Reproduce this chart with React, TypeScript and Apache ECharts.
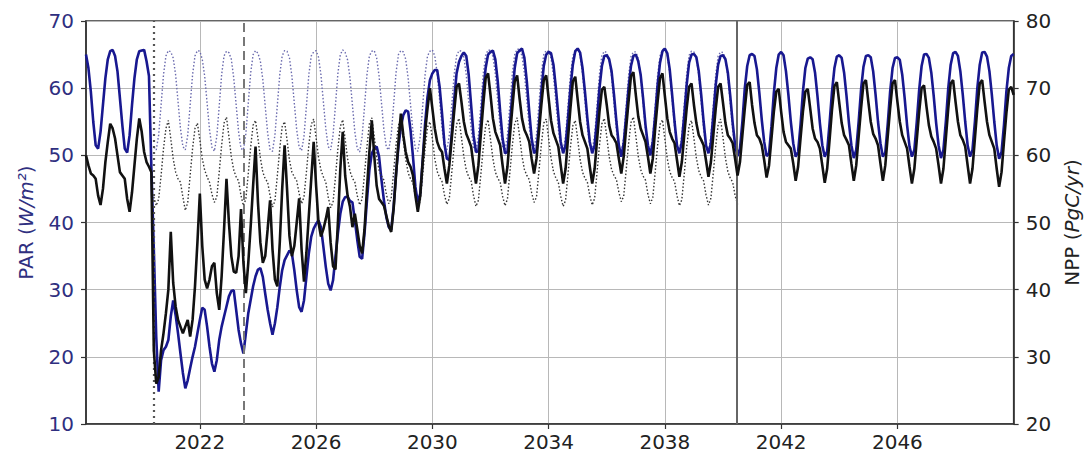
import React, { useEffect, useRef } from 'react';
import * as echarts from 'echarts';

const FONT = 'DejaVu Sans';

// monthly samples: perturbed run from Feb 2018 to Jan 2050, control from Jun 2020 to Jul 2040
const PERT_START = 2018 + 1 / 12;
const PERT_END = 2050;
const CTRL_START = 2020 + 5 / 12;

const xTicks = [2022, 2026, 2030, 2034, 2038, 2042, 2046];
const eventDates = [2020.4, 2023.5, 2040.49];

const parPerturbed: number[] = [
  65.0, 63.0, 59.5, 55.0, 51.5, 51.0, 53.5, 57.5, 61.5, 64.3, 65.5, // 2018 (Feb-Dec)
  65.7, 64.8, 62.5, 58.5, 54.5, 51.0, 50.4, 53.0, 57.5, 61.5, 64.3, 65.5, // 2019
  65.6, 65.7, 64.0, 61.8, 48.0, 36.0, 23.0, 14.8, 19.5, 21.0, 21.5, 22.5, // 2020
  26.0, 28.4, 26.2, 23.5, 20.5, 17.6, 15.3, 16.5, 18.3, 20.0, 21.5, 23.5, // 2021
  25.5, 27.3, 27.0, 24.5, 21.5, 19.0, 17.8, 19.5, 22.5, 24.5, 26.0, 27.5, // 2022
  29.0, 29.8, 29.9, 27.0, 24.0, 22.0, 20.5, 23.5, 26.5, 28.5, 30.5, 32.0, // 2023
  33.0, 33.2, 31.9, 29.4, 27.0, 25.0, 23.3, 25.0, 27.4, 30.4, 32.9, 34.4, // 2024
  35.1, 35.8, 35.4, 32.9, 29.9, 27.4, 26.7, 28.4, 31.9, 35.4, 37.9, 39.1, // 2025
  39.8, 40.3, 39.3, 36.4, 33.4, 30.9, 29.9, 31.4, 34.9, 38.4, 41.3, 43.1, // 2026
  43.8, 43.8, 43.2, 43.0, 40.3, 37.4, 34.9, 34.6, 38.4, 43.3, 47.8, 50.3, // 2027
  51.0, 51.3, 49.8, 46.3, 43.3, 40.8, 39.3, 38.9, 42.3, 47.3, 51.3, 54.2, // 2028
  56.0, 56.7, 56.5, 53.7, 49.8, 45.3, 43.0, 44.3, 49.3, 54.7, 58.7, 61.2, // 2029
  62.2, 62.7, 62.7, 60.2, 56.2, 51.7, 49.5, 49.3, 53.2, 58.2, 62.2, 63.9, // 2030
  64.8, 65.3, 64.8, 62.0, 57.5, 53.0, 50.5, 50.6, 54.5, 59.5, 63.0, 65.0, // 2031
  65.4, 65.6, 64.3, 61.0, 56.5, 52.5, 50.3, 50.5, 54.5, 59.0, 63.0, 65.2, // 2032
  65.6, 65.9, 64.5, 61.0, 56.5, 52.5, 50.3, 50.8, 54.5, 59.5, 63.3, 65.0, // 2033
  65.4, 65.2, 63.5, 60.0, 56.0, 52.0, 50.3, 51.5, 55.5, 60.0, 63.5, 65.5, // 2034
  65.9, 65.3, 63.0, 59.5, 55.5, 52.0, 50.3, 51.5, 55.5, 60.0, 63.3, 64.8, // 2035
  64.9, 64.3, 62.5, 59.0, 55.0, 51.5, 49.8, 51.8, 55.8, 60.0, 63.3, 64.8, // 2036
  65.0, 64.0, 62.0, 58.5, 54.5, 51.5, 50.0, 52.0, 56.0, 60.5, 63.8, 65.5, // 2037
  65.9, 65.2, 62.8, 59.0, 55.0, 51.5, 50.3, 52.0, 56.0, 60.5, 63.8, 65.0, // 2038
  65.1, 64.6, 62.5, 59.0, 55.0, 51.5, 50.3, 51.8, 56.0, 60.5, 63.5, 64.8, // 2039
  64.9, 64.3, 62.3, 58.8, 54.8, 51.5, 49.9, 51.0, 55.0, 60.0, 63.3, 64.9, // 2040
  65.1, 64.8, 62.8, 59.3, 55.3, 52.0, 49.9, 50.3, 54.3, 59.3, 63.0, 65.0, // 2041
  65.4, 64.9, 62.5, 59.0, 55.0, 51.8, 49.8, 50.5, 54.5, 59.5, 63.0, 64.4, // 2042
  64.6, 64.3, 62.3, 58.8, 54.8, 51.5, 49.8, 50.6, 54.8, 59.5, 63.0, 64.7, // 2043
  64.9, 64.5, 62.3, 58.8, 54.8, 51.5, 49.6, 50.8, 55.0, 59.8, 63.2, 64.8, // 2044
  64.9, 64.6, 62.5, 59.0, 55.0, 51.8, 49.8, 50.4, 54.6, 59.5, 63.0, 64.5, // 2045
  64.6, 64.2, 62.0, 58.5, 54.5, 51.3, 49.8, 50.8, 55.0, 59.8, 63.3, 65.0, // 2046
  65.1, 64.5, 62.3, 58.8, 54.8, 51.5, 49.6, 50.8, 55.0, 60.0, 63.5, 65.2, // 2047
  65.4, 64.8, 62.5, 59.0, 55.0, 51.5, 49.8, 50.8, 55.0, 60.0, 63.5, 65.3, // 2048
  65.4, 64.7, 62.5, 59.0, 55.0, 51.5, 49.5, 50.5, 54.5, 59.5, 63.0, 64.8, // 2049
  65.1, // Jan 2050
];

const nppPerturbed: number[] = [
  60.0, 58.5, 57.3, 57.0, 56.5, 54.0, 52.6, 55.0, 59.0, 62.0, 64.7, // 2018 (Feb-Dec)
  64.0, 62.5, 60.0, 57.5, 57.0, 56.5, 53.5, 51.6, 54.5, 58.5, 62.5, 65.5, // 2019
  63.5, 60.5, 59.0, 58.3, 57.5, 31.0, 26.0, 27.0, 31.0, 33.5, 36.5, 40.0, // 2020
  48.6, 41.0, 37.5, 35.5, 34.5, 33.5, 34.5, 35.5, 33.0, 35.5, 40.5, 47.0, // 2021
  54.3, 46.5, 41.5, 40.2, 41.5, 43.5, 44.0, 39.5, 37.0, 42.0, 49.0, 56.5, // 2022
  50.0, 45.0, 42.7, 42.5, 45.0, 52.0, 44.0, 39.5, 44.0, 49.5, 55.5, 61.3, // 2023
  53.0, 47.0, 44.0, 45.0, 49.0, 53.3, 46.0, 41.5, 40.5, 47.0, 55.0, 61.5, // 2024
  55.0, 48.0, 45.0, 46.5, 50.0, 53.6, 46.0, 41.2, 45.5, 51.0, 56.5, 62.0, // 2025
  55.5, 50.0, 47.9, 49.0, 50.5, 52.3, 47.0, 43.5, 43.0, 50.0, 58.0, 63.5, // 2026
  57.0, 54.0, 52.3, 49.3, 51.3, 49.0, 46.5, 45.4, 49.0, 55.0, 60.5, 65.2, // 2027
  60.0, 55.5, 53.5, 53.0, 52.5, 51.0, 49.5, 48.6, 52.0, 57.0, 62.0, 66.2, // 2028
  63.0, 60.5, 59.0, 58.3, 57.0, 54.0, 51.6, 54.0, 59.0, 63.5, 67.0, 70.0, // 2029
  67.0, 64.0, 62.0, 61.0, 60.5, 58.0, 55.8, 58.5, 62.5, 66.5, 70.2, 70.7, // 2030
  68.0, 65.0, 63.2, 62.3, 61.3, 58.5, 55.8, 58.5, 63.0, 67.5, 71.5, 72.2, // 2031
  69.0, 65.5, 63.5, 62.5, 61.5, 58.5, 55.8, 58.3, 62.8, 67.0, 71.0, 71.9, // 2032
  68.5, 65.5, 63.8, 63.0, 62.0, 59.5, 57.3, 59.5, 63.5, 67.5, 71.2, 71.9, // 2033
  68.5, 65.2, 63.3, 62.3, 61.3, 58.5, 55.8, 58.0, 62.5, 67.0, 71.0, 71.7, // 2034
  68.3, 65.0, 63.0, 62.0, 61.0, 58.3, 55.8, 58.0, 62.3, 66.5, 69.8, 70.2, // 2035
  67.5, 64.5, 63.0, 62.5, 61.8, 59.5, 57.3, 59.8, 64.0, 68.0, 71.8, 72.4, // 2036
  69.0, 65.8, 64.0, 63.0, 62.0, 59.8, 57.3, 59.5, 64.0, 68.0, 71.5, 72.2, // 2037
  68.8, 65.5, 63.5, 62.5, 61.8, 59.3, 56.8, 59.0, 63.0, 67.0, 70.2, 70.7, // 2038
  67.5, 64.8, 63.0, 62.3, 61.5, 59.2, 56.8, 59.0, 63.0, 67.0, 70.2, 70.7, // 2039
  67.8, 64.8, 63.0, 62.5, 61.8, 59.5, 57.0, 59.0, 63.0, 67.0, 70.5, 70.9, // 2040
  67.5, 64.8, 63.0, 62.5, 61.5, 59.3, 56.7, 58.5, 62.5, 66.5, 69.5, 69.9, // 2041
  66.5, 63.5, 62.0, 61.5, 61.0, 58.8, 56.2, 58.3, 62.5, 66.5, 69.5, 69.9, // 2042
  67.0, 64.0, 62.5, 62.0, 61.0, 58.5, 55.9, 58.0, 62.3, 66.8, 70.3, 70.9, // 2043
  67.8, 64.8, 63.0, 62.3, 61.5, 58.8, 56.2, 58.5, 62.8, 67.0, 70.7, 71.2, // 2044
  68.0, 65.0, 63.2, 62.5, 61.5, 58.8, 56.2, 58.5, 62.8, 67.0, 70.7, 71.2, // 2045
  68.0, 65.0, 63.0, 62.0, 61.0, 58.3, 55.8, 58.0, 62.3, 66.5, 70.0, 70.4, // 2046
  67.3, 64.5, 62.8, 62.0, 61.0, 58.5, 55.8, 58.0, 62.5, 67.0, 70.7, 71.2, // 2047
  68.0, 65.0, 63.0, 62.3, 61.3, 58.5, 55.8, 58.0, 62.5, 67.0, 70.7, 71.2, // 2048
  68.0, 65.0, 63.0, 62.0, 61.0, 58.0, 55.3, 57.5, 62.0, 66.3, 69.8, 70.2, // 2049
  69.0, // Jan 2050
];

const parControl: number[] = [
  51.2, 50.8, 53.0, 57.5, 62.0, 64.8, 65.6, // 2020 (Jun-Dec)
  65.4, 64.5, 62.0, 58.0, 54.0, 51.3, 50.8, 53.0, 57.5, 62.0, 64.8, 65.6, // 2021
  65.5, 64.3, 61.8, 57.8, 53.8, 51.2, 50.6, 52.8, 57.3, 62.0, 64.8, 65.5, // 2022
  65.3, 64.3, 61.5, 57.5, 53.5, 51.0, 50.8, 53.2, 57.8, 62.3, 65.0, 65.6, // 2023
  65.2, 64.0, 61.3, 57.3, 53.3, 50.8, 50.6, 53.0, 57.5, 62.0, 64.8, 65.6, // 2024
  65.5, 64.5, 61.8, 57.8, 53.8, 51.2, 50.7, 52.8, 57.3, 62.0, 64.8, 65.4, // 2025
  65.6, 64.6, 62.0, 58.0, 54.0, 51.3, 50.8, 53.0, 57.5, 62.2, 65.0, 65.7, // 2026
  65.3, 64.2, 61.5, 57.5, 53.5, 51.0, 50.5, 52.8, 57.3, 62.0, 64.8, 65.5, // 2027
  65.6, 64.5, 61.8, 57.8, 53.8, 51.2, 50.8, 53.0, 57.5, 62.3, 65.0, 65.6, // 2028
  65.4, 64.3, 61.5, 57.5, 53.5, 51.0, 50.6, 52.8, 57.3, 62.0, 64.8, 65.5, // 2029
  65.7, 64.8, 62.2, 58.2, 54.0, 51.3, 50.8, 53.0, 57.5, 62.0, 64.8, 65.6, // 2030
  65.5, 64.6, 62.0, 58.0, 54.0, 51.2, 50.6, 52.9, 57.4, 62.1, 64.9, 65.7, // 2031
  65.6, 64.7, 62.1, 58.1, 54.1, 51.3, 50.7, 53.0, 57.5, 62.2, 65.0, 65.8, // 2032
  65.8, 64.8, 62.2, 58.2, 54.2, 51.4, 50.8, 53.1, 57.6, 62.2, 65.0, 65.6, // 2033
  65.5, 64.5, 61.9, 57.9, 53.9, 51.1, 50.6, 52.9, 57.4, 62.0, 64.8, 65.6, // 2034
  65.9, 64.8, 62.1, 58.1, 54.1, 51.3, 50.7, 53.0, 57.5, 62.1, 64.9, 65.5, // 2035
  65.3, 64.3, 61.7, 57.7, 53.7, 51.0, 50.4, 52.7, 57.2, 61.8, 64.7, 65.4, // 2036
  65.4, 64.4, 61.8, 57.8, 53.8, 51.1, 50.5, 52.8, 57.3, 61.9, 64.8, 65.7, // 2037
  66.0, 64.9, 62.2, 58.2, 54.2, 51.4, 50.7, 53.0, 57.5, 62.1, 64.9, 65.5, // 2038
  65.4, 64.5, 61.9, 57.9, 53.9, 51.2, 50.6, 52.9, 57.4, 62.0, 64.8, 65.4, // 2039
  65.3, 64.3, 61.7, 57.7, 53.7, 51.0, 50.5, // 2040 (Jan-Jul)
];

const nppControl: number[] = [
  53.8, 52.5, 53.5, 57.0, 61.0, 64.0, 65.2, // 2020 (Jun-Dec)
  62.5, 59.5, 57.5, 56.5, 56.0, 53.8, 51.8, 53.0, 57.0, 61.0, 64.0, 64.8, // 2021
  62.3, 59.5, 57.8, 56.8, 56.0, 54.2, 53.0, 53.8, 57.5, 61.5, 64.8, 65.7, // 2022
  62.8, 59.8, 57.8, 56.8, 56.2, 54.0, 52.5, 53.5, 57.3, 61.3, 64.5, 65.2, // 2023
  62.5, 59.6, 57.5, 56.5, 56.0, 54.0, 52.3, 53.2, 57.0, 61.0, 64.3, 65.0, // 2024
  62.3, 59.3, 57.5, 56.8, 56.2, 54.3, 52.8, 53.8, 57.5, 61.5, 64.6, 65.4, // 2025
  62.6, 59.7, 57.8, 56.8, 56.0, 53.8, 52.2, 53.0, 56.8, 61.0, 64.3, 65.3, // 2026
  62.4, 59.5, 57.6, 56.6, 56.0, 54.0, 52.6, 53.5, 57.3, 61.3, 64.7, 65.6, // 2027
  62.8, 59.8, 57.8, 56.9, 56.3, 54.2, 52.8, 53.6, 57.5, 61.5, 64.5, 65.2, // 2028
  62.3, 59.4, 57.4, 56.5, 55.9, 53.8, 52.3, 53.2, 57.0, 61.0, 64.2, 65.0, // 2029
  62.5, 59.5, 57.6, 56.7, 56.1, 54.1, 52.7, 53.6, 57.4, 61.4, 64.6, 65.5, // 2030
  62.7, 59.8, 57.8, 56.8, 56.2, 54.0, 52.4, 53.3, 57.1, 61.1, 64.4, 65.3, // 2031
  62.4, 59.5, 57.5, 56.6, 56.0, 53.9, 52.5, 53.5, 57.4, 61.4, 64.7, 65.6, // 2032
  62.9, 59.9, 57.9, 57.0, 56.4, 54.4, 53.0, 53.8, 57.6, 61.6, 64.8, 65.4, // 2033
  62.5, 59.6, 57.6, 56.6, 56.0, 53.9, 52.4, 53.3, 57.2, 61.2, 64.4, 65.2, // 2034
  62.4, 59.4, 57.5, 56.6, 56.0, 54.0, 52.6, 53.6, 57.5, 61.5, 64.7, 65.5, // 2035
  62.8, 59.8, 57.9, 57.0, 56.4, 54.5, 53.1, 53.9, 57.7, 61.7, 64.9, 65.7, // 2036
  62.9, 59.9, 57.9, 56.9, 56.3, 54.2, 52.8, 53.7, 57.5, 61.5, 64.6, 65.3, // 2037
  62.4, 59.5, 57.6, 56.7, 56.1, 54.0, 52.5, 53.4, 57.2, 61.2, 64.4, 65.2, // 2038
  62.5, 59.6, 57.7, 56.8, 56.2, 54.1, 52.6, 53.6, 57.4, 61.4, 64.6, 65.4, // 2039
  62.6, 59.6, 57.6, 56.6, 56.0, 54.0, 52.7, // 2040 (Jan-Jul)
];

const toPoints = (start: number, values: number[]) => values.map((v, i) => [start + i / 12, v]);

const PAR_COLOR = '#2f2f80';
const AXIS_COLOR = '#333';
const GRID_COLOR = '#b8b8b8';

export default function App() {
  const ref = useRef<HTMLDivElement>(null);

  useEffect(() => {
    if (!ref.current) return;
    const chart = echarts.init(ref.current, undefined, { renderer: 'svg' });
    const baseLabel = { fontFamily: FONT, fontSize: 20 };
    const option: any = {
      animation: false,
      backgroundColor: '#ffffff',
      grid: {
        left: 86,
        right: 71,
        top: 21,
        bottom: 30,
        show: true,
        borderColor: AXIS_COLOR,
        borderWidth: 1.5,
        backgroundColor: 'transparent',
      },
      xAxis: {
        type: 'value',
        min: PERT_START,
        max: PERT_END,
        axisLine: { show: true, lineStyle: { color: AXIS_COLOR, width: 1.5 } },
        axisTick: { show: true, customValues: xTicks, length: 5, lineStyle: { color: AXIS_COLOR, width: 1.2 } },
        axisLabel: {
          ...baseLabel,
          customValues: xTicks,
          color: '#222',
          margin: 8,
          formatter: (v: number) => String(Math.round(v)),
        },
        splitLine: { show: true, lineStyle: { color: GRID_COLOR, width: 1 } },
      },
      yAxis: [
        {
          type: 'value',
          position: 'left',
          min: 10,
          max: 70,
          interval: 10,
          axisLine: { show: true, lineStyle: { color: AXIS_COLOR, width: 1.5 } },
          axisTick: { show: true, length: 5, lineStyle: { color: AXIS_COLOR, width: 1.2 } },
          axisLabel: { ...baseLabel, color: PAR_COLOR, margin: 12 },
          splitLine: { show: true, lineStyle: { color: GRID_COLOR, width: 1 } },
          name: '{n|PAR (}{i|W/m²}{n|)}',
          nameLocation: 'middle',
          nameGap: 50,
          nameRotate: 90,
          nameTextStyle: {
            color: PAR_COLOR,
            ...baseLabel,
            rich: {
              n: { color: PAR_COLOR, fontFamily: FONT, fontSize: 20 },
              i: { color: PAR_COLOR, fontFamily: FONT, fontSize: 20, fontStyle: 'italic' },
            },
          },
        },
        {
          type: 'value',
          position: 'right',
          min: 20,
          max: 80,
          interval: 10,
          axisLine: { show: true, lineStyle: { color: AXIS_COLOR, width: 1.5 } },
          axisTick: { show: true, length: 5, lineStyle: { color: AXIS_COLOR, width: 1.2 } },
          axisLabel: { ...baseLabel, color: '#222', margin: 12 },
          splitLine: { show: false },
          name: '{n|NPP (}{i|PgC/yr}{n|)}',
          nameLocation: 'middle',
          nameGap: 46,
          nameRotate: 90,
          nameTextStyle: {
            color: '#222',
            ...baseLabel,
            rich: {
              n: { color: '#222', fontFamily: FONT, fontSize: 20 },
              i: { color: '#222', fontFamily: FONT, fontSize: 20, fontStyle: 'italic' },
            },
          },
        },
      ],
      series: [
        {
          name: 'PAR control',
          type: 'line',
          yAxisIndex: 0,
          data: toPoints(CTRL_START, parControl),
          showSymbol: false,
          symbol: 'none',
          lineStyle: { color: '#6a6aae', width: 1.4, type: [1.5, 2] },
          z: 2,
        },
        {
          name: 'PAR',
          type: 'line',
          yAxisIndex: 0,
          data: toPoints(PERT_START, parPerturbed),
          showSymbol: false,
          symbol: 'none',
          lineStyle: { color: '#181890', width: 2.6 },
          z: 3,
        },
        {
          name: 'NPP control',
          type: 'line',
          yAxisIndex: 1,
          data: toPoints(CTRL_START, nppControl),
          showSymbol: false,
          symbol: 'none',
          lineStyle: { color: '#333333', width: 1.4, type: [1.5, 2] },
          z: 4,
        },
        {
          name: 'NPP',
          type: 'line',
          yAxisIndex: 1,
          data: toPoints(PERT_START, nppPerturbed),
          showSymbol: false,
          symbol: 'none',
          lineStyle: { color: '#111111', width: 2.6 },
          z: 5,
          markLine: {
            silent: true,
            symbol: ['none', 'none'],
            label: { show: false },
            animation: false,
            data: [
              { xAxis: eventDates[0], lineStyle: { color: '#555', width: 2.2, type: [2, 4] } },
              { xAxis: eventDates[1], lineStyle: { color: '#777', width: 2, type: [9, 5] } },
              { xAxis: eventDates[2], lineStyle: { color: '#666', width: 2, type: 'solid' } },
            ],
          },
        },
      ],
    };
    chart.setOption(option);
    return () => chart.dispose();
  }, []);

  return (
    <div
      ref={ref}
      style={{ position: 'fixed', left: 0, top: 0, width: 1090, height: 454, background: '#fff' }}
    />
  );
}
